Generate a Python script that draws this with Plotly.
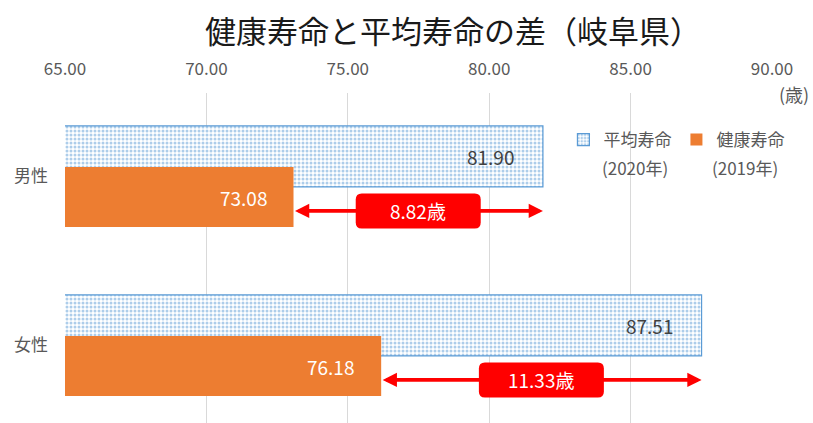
import plotly.graph_objects as go

# ---- data ----
categories = ["男性", "女性"]
avg_life = [81.90, 87.51]          # 平均寿命 (2020年)
healthy_life = [73.08, 76.18]      # 健康寿命 (2019年)
x_ticks = [65, 70, 75, 80, 85, 90]
title_text = "健康寿命と平均寿命の差（岐阜県）"
avg_name, avg_year = "平均寿命", "(2020年)"
healthy_name, healthy_year = "健康寿命", "(2019年)"
unit_text = "(歳)"

FONT = "Noto Sans CJK JP"
GREY = "#595959"
BLUE = "#5B9BD5"
ORANGE = "#ED7D31"
RED = "#FF0000"

PLOT_L, PLOT_W, PLOT_T, PLOT_H = 65, 706.6, 93, 330

fig = go.Figure()
fig.add_trace(go.Bar(
    y=categories, x=avg_life, orientation="h", name=avg_name,
    offset=-0.299, width=0.361,
    marker=dict(color="white", line=dict(color=BLUE, width=1.2),
                pattern=dict(shape=".", fgcolor=BLUE, bgcolor="white",
                             size=4, solidity=0.45)),
    hoverinfo="skip",
))
fig.add_trace(go.Bar(
    y=categories, x=healthy_life, orientation="h", name=healthy_name,
    offset=-0.056, width=0.355,
    marker=dict(color=ORANGE, line=dict(width=0)),
    hoverinfo="skip",
))

annotations = []
shapes = []
ARROW_OFF = 0.204


def rrect(w, h, r):
    hw, hh = w / 2, h / 2
    return (f"M{-hw + r},{-hh} L{hw - r},{-hh} Q{hw},{-hh} {hw},{-hh + r} "
            f"L{hw},{hh - r} Q{hw},{hh} {hw - r},{hh} L{-hw + r},{hh} "
            f"Q{-hw},{hh} {-hw},{hh - r} L{-hw},{-hh + r} Q{-hw},{-hh} {-hw + r},{-hh} Z")


def px_x(px):
    return (px - PLOT_L) / PLOT_W


def px_y(py):
    return 1 - (py - PLOT_T) / PLOT_H


for i, (a, h) in enumerate(zip(avg_life, healthy_life)):
    # value labels
    annotations.append(dict(x=a, y=i - 0.118, xref="x", yref="y", text=f"{a:.2f}",
                            showarrow=False, xanchor="right", xshift=-27,
                            font=dict(family=FONT, size=19, color="#404040")))
    annotations.append(dict(x=h, y=i + 0.122, xref="x", yref="y", text=f"{h:.2f}",
                            showarrow=False, xanchor="right", xshift=-25,
                            font=dict(family=FONT, size=19, color="white")))
    # double arrow
    yy = i + ARROW_OFF
    annotations.append(dict(x=a, y=yy, ax=h, ay=yy, xref="x", yref="y",
                            axref="x", ayref="y", text="", showarrow=True,
                            arrowside="end+start", arrowhead=2, startarrowhead=2,
                            arrowsize=0.75, startarrowsize=0.75,
                            arrowwidth=3.8, arrowcolor=RED, standoff=0, startstandoff=0))
    mid = (a + h) / 2
    shapes.append(dict(type="path", xref="x", yref="y", xsizemode="pixel",
                       ysizemode="pixel", xanchor=mid, yanchor=yy,
                       path=rrect(125, 35, 6), fillcolor=RED,
                       line=dict(width=0), layer="above"))
    annotations.append(dict(x=mid, y=yy, xref="x", yref="y", text=f"{a - h:.2f}歳",
                            showarrow=False, xanchor="center", yanchor="middle",
                            font=dict(family=FONT, size=19, color="white")))

# legend second lines
annotations.append(dict(x=px_x(600), y=px_y(167), xref="paper", yref="paper",
                        text=avg_year, showarrow=False, xanchor="left", yanchor="middle",
                        font=dict(family=FONT, size=17, color=GREY)))
annotations.append(dict(x=px_x(710), y=px_y(167), xref="paper", yref="paper",
                        text=healthy_year, showarrow=False, xanchor="left", yanchor="middle",
                        font=dict(family=FONT, size=17, color=GREY)))
# unit
annotations.append(dict(x=px_x(811), y=px_y(94), xref="paper", yref="paper",
                        text=unit_text, showarrow=False, xanchor="right", yanchor="middle",
                        font=dict(family=FONT, size=18, color=GREY)))

fig.update_layout(
    width=813, height=423,
    margin=dict(l=PLOT_L, r=813 - PLOT_L - PLOT_W, t=PLOT_T, b=423 - PLOT_T - PLOT_H),
    paper_bgcolor="white", plot_bgcolor="white",
    barmode="overlay",
    title=dict(text=title_text, x=453 / 813, xref="container", xanchor="center",
               y=1 - 32.5 / 423, yref="container", yanchor="middle",
               font=dict(family=FONT, size=31, color="#1a1a1a")),
    font=dict(family=FONT, color=GREY),
    showlegend=True,
    legend=dict(orientation="h", x=0.705, y=0.912, xanchor="left", yanchor="top",
                font=dict(family=FONT, size=17, color=GREY),
                bgcolor="rgba(0,0,0,0)", traceorder="normal"),
    annotations=annotations,
    shapes=shapes,
)
fig.update_xaxes(range=[65, 90], side="top", tickvals=x_ticks, tickformat=".2f",
                 showgrid=True, gridcolor="#D9D9D9", gridwidth=1, zeroline=False,
                 showline=False, ticks="", ticklabelstandoff=14, automargin=False,
                 tickfont=dict(family=FONT, size=17, color=GREY), fixedrange=True)
fig.update_yaxes(categoryorder="array", categoryarray=categories,
                 range=[1.459, -0.494], showgrid=False, zeroline=False, showline=False,
                 ticks="", ticklabelstandoff=16, automargin=False,
                 tickfont=dict(family=FONT, size=17, color=GREY), fixedrange=True)

fig.write_html("out.html", config={"displayModeBar": False},
               post_script="document.body.style.margin='0px';document.body.style.overflow='hidden';")
